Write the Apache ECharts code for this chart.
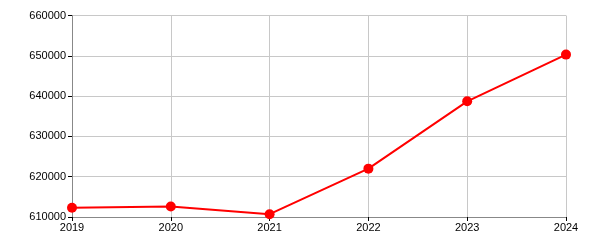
<!DOCTYPE html>
<html><head><meta charset="utf-8">
<script src="https://cdn.jsdelivr.net/npm/echarts@6/dist/echarts.min.js"></script>
<style>html,body{margin:0;padding:0;background:#fff}#c{width:600px;height:250px}</style>
</head><body><div id="c"></div>
<script>
var years = ['2019','2020','2021','2022','2023','2024'];
var values = [612300, 612600, 610700, 622000, 638700, 650300];
var yMin = 610000, yMax = 660000, yStep = 10000;

var chart = echarts.init(document.getElementById('c'), null, {renderer:'canvas'});
chart.setOption({
  animation:false,
  grid:{left:72, right:34, top:15.5, bottom:33, containLabel:false},
  xAxis:{
    type:'category', data:years, boundaryGap:false,
    axisLine:{lineStyle:{color:'#888', width:1}},
    axisTick:{alignWithLabel:true, length:4, lineStyle:{color:'#000'}},
    axisLabel:{color:'#000', fontFamily:'Liberation Sans, Arial', fontSize:11, margin:5},
    splitLine:{show:true, lineStyle:{color:'#c8c8c8', width:1}}
  },
  yAxis:{
    type:'value', min:yMin, max:yMax, interval:yStep,
    axisLine:{show:true, lineStyle:{color:'#888', width:1}},
    axisTick:{show:true, length:4, lineStyle:{color:'#000'}},
    axisLabel:{color:'#000', fontFamily:'Liberation Sans, Arial', fontSize:11, margin:6,
      formatter:function(v){return String(v);}},
    splitLine:{show:true, lineStyle:{color:'#c8c8c8', width:1}}
  },
  series:[{
    type:'line', data:values,
    lineStyle:{color:'#ff0000', width:2},
    itemStyle:{color:'#ff0000'},
    symbol:'circle', symbolSize:10, showAllSymbol:true
  }]
});
</script></body></html>
